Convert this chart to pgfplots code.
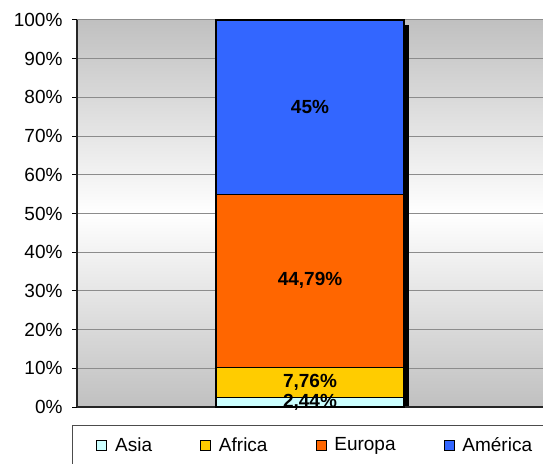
\documentclass[border=0pt]{standalone}
\usepackage{pgfplots}
\pgfplotsset{compat=1.18}
\usepackage{fontspec}
\setmainfont{Liberation Sans}
\definecolor{cAsia}{HTML}{CCFFFF}
\definecolor{cAfrica}{HTML}{FFCC00}
\definecolor{cEuropa}{HTML}{FF6600}
\definecolor{cAmerica}{HTML}{3366FF}
\definecolor{gridc}{HTML}{8C8C8C}
\definecolor{bgc}{HTML}{C0C0C0}
\begin{document}
\begin{tikzpicture}[font=\fontsize{19}{22}\selectfont]
\useasboundingbox (0,0) rectangle (543pt,463pt);
\pgfplotsset{base/.style={at={(77pt,56pt)}, anchor=south west, width=466pt, height=387pt, scale only axis,
  xmin=-1, xmax=1, ymin=0, ymax=100, enlargelimits=false}}
% background, grid, shadow
\begin{axis}[base,
  axis background/.style={shading=axis, top color=bgc, bottom color=bgc, middle color=white},
  axis line style={draw=none}, xtick=\empty, ytick={0,10,...,100}, yticklabels={}, major tick length=0pt,
  ymajorgrids, grid style={gridc, line width=1pt}]
\addplot[ybar, bar width=188pt, bar shift=5pt, fill=black, draw=none] coordinates {(0,98.7)};
\end{axis}
% stacked bars
\begin{axis}[base, ybar stacked, bar width=188pt,
  axis x line*=bottom, axis y line*=left, axis line style={black!85, line width=1.5pt},
  xtick=\empty, ytick={0,10,...,100}, yticklabel={\pgfmathprintnumber{\tick}\%},
  yticklabel style={xshift=-6pt},
  /pgf/number format/assume math mode=true,
  tick align=outside, major tick length=5pt, tick style={black, line width=1pt},
  legend columns=4,
  legend image code/.code={\draw[#1, draw=black, line width=0.8pt] (0pt,-5pt) rectangle (10pt,5pt);},
  legend style={at={(axis description cs:-0.0107,-0.0465)}, anchor=north west, draw=black!70, line width=0.8pt,
    inner xsep=24pt, inner ysep=10pt, font=\fontsize{19}{22}\selectfont,
    /tikz/every even column/.append style={column sep=46pt},
    /tikz/every odd column/.append style={column sep=6pt}},
  ]
\addplot[fill=cAsia, draw=black, line width=1.2pt] coordinates {(0,2.44)};
\addlegendentry{Asia}
\addplot[fill=cAfrica, draw=black, line width=1.2pt] coordinates {(0,7.76)};
\addlegendentry{Africa}
\addplot[fill=cEuropa, draw=black, line width=1.2pt] coordinates {(0,44.79)};
\addlegendentry{Europa}
\addplot[fill=cAmerica, draw=black, line width=1.2pt] coordinates {(0,45.01)};
\addlegendentry{América}
\end{axis}
% labels
\begin{axis}[base, hide axis]
\addplot[only marks, mark=*, mark size=0pt, mark options={draw=none, fill=none},
  nodes near coords, point meta=explicit symbolic, nodes near coords align={center},
  every node near coord/.append style={font=\fontsize{19}{22}\selectfont\bfseries, anchor=center}]
  coordinates {(0,1.22) [2,44\%] (0,6.32) [7,76\%] (0,32.6) [44,79\%] (0,77.5) [45\%]};
\end{axis}
\end{tikzpicture}
\end{document}
